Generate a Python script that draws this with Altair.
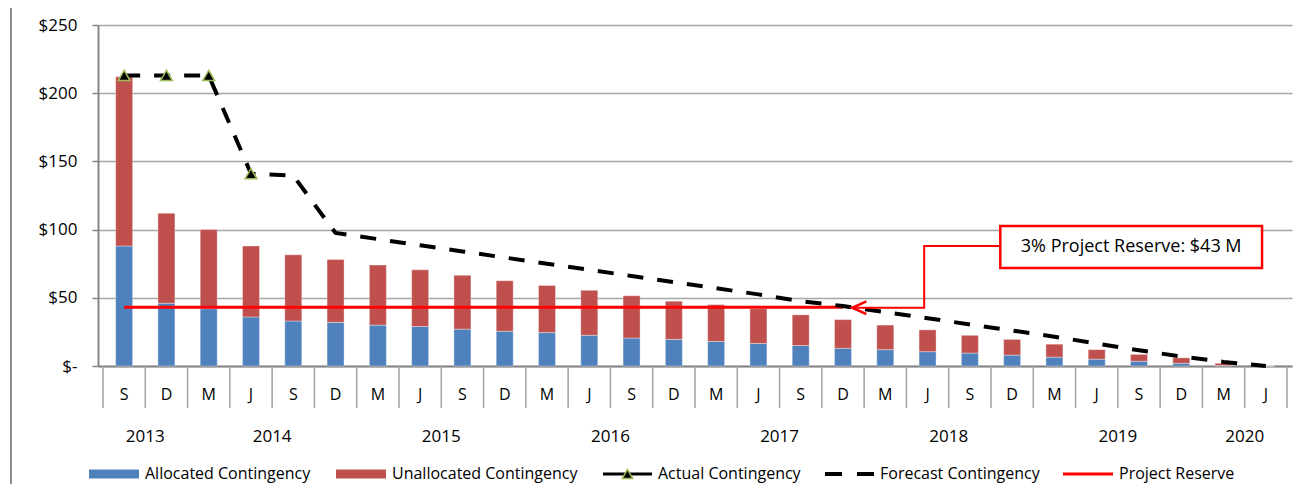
import altair as alt
import pandas as pd

# ---------------- data ----------------
periods = ["S", "D", "M", "J", "S", "D", "M", "J", "S", "D", "M", "J", "S", "D",
           "M", "J", "S", "D", "M", "J", "S", "D", "M", "J", "S", "D", "M", "J"]
years = ["2013", "2013",
         "2014", "2014", "2014", "2014",
         "2015", "2015", "2015", "2015",
         "2016", "2016", "2016", "2016",
         "2017", "2017", "2017", "2017",
         "2018", "2018", "2018", "2018",
         "2019", "2019", "2019", "2019",
         "2020", "2020"]
allocated = [88, 46, 42, 36, 33, 32, 30, 29, 27, 25.5, 24.5, 22.5, 20.5, 19.5,
             18, 16.5, 15, 13, 12, 10.5, 9.5, 8, 6.5, 5, 3.5, 2, 0.3, 0]
unallocated = [124, 66, 58, 52, 48.5, 46, 44, 41.5, 39.5, 37, 34.5, 33, 31, 28,
               27, 25.5, 22.5, 21, 18, 16, 13, 11.5, 9.5, 7, 5, 4, 1.7, 0]
actual = [213, 213, 213, 141] + [None] * 24
forecast = [213, 213, 213, 141, 139.5, 97.5, 93, 88.5, 84, 79.5, 75, 70.5, 66, 61.5,
            57, 52.5, 47.5, 44, 39.5, 35, 30.5, 26, 21.5, 16.5, 11.5, 7, 3, 0]
reserve = [43, 43, 43, 43, 43, 43, 43, 43, 43, 43, 43, 43, 43, 43,
           43, 43, 43, 43] + [None] * 10
y_ticks = [0, 50, 100, 150, 200, 250]
callout_text = "3% Project Reserve: $43 M"
legend_labels = ["Allocated Contingency", "Unallocated Contingency",
                 "Actual Contingency", "Forecast Contingency", "Project Reserve"]

BLUE = "#4F81BD"
RED = "#C0504D"
BRIGHT_RED = "#FF0000"
GRID = "#a6a6a6"
AXIS = "#868686"
FONT = "Open Sans"

N = len(periods)
W, H = 1194, 341

df = pd.DataFrame({
    "x": [i + 0.5 for i in range(N)],
    "period": periods,
    "year": years,
    "base": [0] * N,
    "alloc": allocated,
    "top": [a + u for a, u in zip(allocated, unallocated)],
    "actual": actual,
    "forecast": forecast,
    "reserve": reserve,
})
year_df = df.groupby("year", as_index=False)["x"].mean()
bounds_df = pd.DataFrame({"b": list(range(N + 1))})
one = pd.DataFrame({"k": [0]})

xscale = alt.Scale(domain=[0, N], nice=False, zero=False)
yscale = alt.Scale(domain=[0, 250], nice=False)
xaxis = alt.Axis(domain=True, domainColor=AXIS, domainWidth=2, ticks=False,
                 labels=False, grid=False, title=None)
yaxis = alt.Axis(values=y_ticks, grid=True, gridColor=GRID, gridWidth=1.6,
                 domain=True, domainColor=AXIS, domainWidth=2,
                 ticks=True, tickColor=AXIS, tickSize=6, tickWidth=1.5,
                 labelFont=FONT, labelFontSize=17, labelColor="black",
                 labelPadding=15,
                 labelExpr="datum.value == 0 ? '$-\u00a0\u00a0' : '$' + datum.value",
                 title=None)


def X(f):
    return alt.X(f, type="quantitative", scale=xscale, axis=xaxis, title=None)


def Y(f):
    return alt.Y(f, type="quantitative", scale=yscale, axis=yaxis, title=None)


base = alt.Chart(df)

bars_alloc = base.mark_bar(size=17, color=BLUE, stroke="white",
                           strokeOpacity=0.35, strokeWidth=1).encode(
    x=X("x"), y=Y("base"), y2="alloc")
bars_unalloc = base.mark_bar(size=17, color=RED, stroke="white",
                             strokeOpacity=0.35, strokeWidth=1).encode(
    x=X("x"), y=Y("alloc"), y2="top")

reserve_line = base.transform_filter("datum.reserve != null").mark_line(
    color=BRIGHT_RED, strokeWidth=3).encode(x=X("x"), y=Y("reserve"))

forecast_line = base.mark_line(color="black", strokeWidth=4,
                               strokeDash=[16, 14]).encode(x=X("x"), y=Y("forecast"))

actual_pts = base.transform_filter("datum.actual != null").mark_point(
    shape="triangle-up", filled=True, fill="black", stroke="#9BBB59",
    strokeWidth=1.5, size=140, opacity=1).encode(x=X("x"), y=Y("actual"))

# category separators and labels (multi-level axis)
separators = alt.Chart(bounds_df).mark_rule(color=GRID, strokeWidth=1.6).encode(
    x=X("b"), y=alt.value(H), y2=alt.value(H + 42))
period_labels = base.mark_text(font=FONT, fontSize=16, color="black",
                               baseline="middle").encode(
    x=X("x"), y=alt.value(H + 29), text="period:N")
year_labels = alt.Chart(year_df).mark_text(font=FONT, fontSize=17, color="black",
                                           baseline="middle").encode(
    x=X("x"), y=alt.value(H + 71), text="year:N")

# callout (data coordinates)
box_x0, box_x1 = 21.22, 27.41
box_y0, box_y1 = 71.8, 102.6
box = alt.Chart(one).mark_rect(fill="white", stroke=BRIGHT_RED, strokeWidth=2.5).encode(
    x=alt.datum(box_x0, scale=xscale), x2=alt.datum(box_x1),
    y=alt.datum(box_y0, scale=yscale), y2=alt.datum(box_y1))
box_text = alt.Chart(one).mark_text(font=FONT, fontSize=18, color="black",
                                    baseline="middle", align="center").encode(
    x=alt.datum((box_x0 + box_x1) / 2, scale=xscale),
    y=alt.datum((box_y0 + box_y1) / 2, scale=yscale),
    text=alt.value(callout_text))
conn_df = pd.DataFrame({
    "cx": [box_x0, 19.42, 19.42, 17.72],
    "cy": [88.0, 88.0, 42.7, 42.7],
    "o": [0, 1, 2, 3],
})
connector = alt.Chart(conn_df).mark_line(color=BRIGHT_RED, strokeWidth=2).encode(
    x=alt.X("cx:Q", scale=xscale, axis=xaxis, title=None),
    y=alt.Y("cy:Q", scale=yscale, axis=yaxis, title=None),
    order="o:Q")
arrow_head = alt.Chart(one).mark_point(
    shape="M1,-0.9L-1,0L1,0.9", filled=False, stroke=BRIGHT_RED, strokeWidth=2.5,
    size=200, opacity=1, xOffset=7).encode(
    x=alt.datum(17.72, scale=xscale), y=alt.datum(42.7, scale=yscale))

# custom legend (pixel layout below the plot)
LY = 449
leg = []
leg.append(alt.Chart(one).mark_rect(color=BLUE).encode(
    x=alt.value(-9), x2=alt.value(41), y=alt.value(LY - 4.5), y2=alt.value(LY + 4.5)))
leg.append(alt.Chart(one).mark_rect(color=RED).encode(
    x=alt.value(238), x2=alt.value(288), y=alt.value(LY - 4.5), y2=alt.value(LY + 4.5)))
leg.append(alt.Chart(one).mark_rule(color="black", strokeWidth=3).encode(
    x=alt.value(505), x2=alt.value(554), y=alt.value(LY)))
leg.append(alt.Chart(one).mark_point(shape="triangle-up", filled=True, fill="black",
                                     stroke="#9BBB59", strokeWidth=1.5, size=110,
                                     opacity=1).encode(
    x=alt.value(529.5), y=alt.value(LY)))
leg.append(alt.Chart(one).mark_rule(color="black", strokeWidth=4,
                                    strokeDash=[17, 15]).encode(
    x=alt.value(727), x2=alt.value(776), y=alt.value(LY)))
leg.append(alt.Chart(one).mark_rule(color=BRIGHT_RED, strokeWidth=3).encode(
    x=alt.value(965), x2=alt.value(1015), y=alt.value(LY)))
for lx, lab in zip([47, 294, 560, 782, 1021], legend_labels):
    leg.append(alt.Chart(one).mark_text(font=FONT, fontSize=16, color="black",
                                        align="left", baseline="middle").encode(
        x=alt.value(lx), y=alt.value(LY), text=alt.value(lab)))

# outer chart border
border = alt.Chart(one).mark_rect(fillOpacity=0, stroke="#8c8c8c", strokeWidth=2).encode(
    x=alt.value(-87), x2=alt.value(1300), y=alt.value(-18), y2=alt.value(600))

chart = alt.layer(
    border, bars_alloc, bars_unalloc, separators, period_labels, year_labels,
    reserve_line, forecast_line, actual_pts, connector, arrow_head, box, box_text,
    *leg
).properties(
    width=W, height=H,
    autosize=alt.AutoSizeParams(type="none"),
    padding={"left": 90, "top": 17, "right": 1, "bottom": 118},
).configure_view(stroke=None)

chart.save("out.html", embed_options={"renderer": "svg", "actions": False})
